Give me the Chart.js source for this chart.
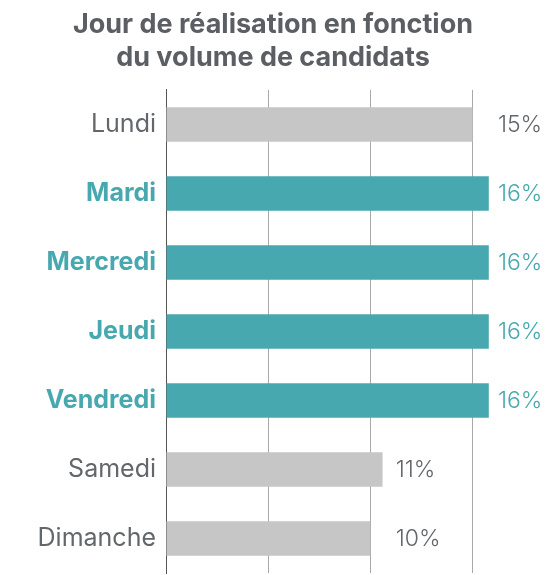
<!DOCTYPE html>
<html>
<head>
<meta charset="utf-8">
<script src="https://cdn.jsdelivr.net/npm/chart.js@4/dist/chart.umd.min.js"></script>
<style>
  html, body { margin: 0; padding: 0; background: #fff; }
  #wrap { width: 546px; height: 575px; }
</style>
</head>
<body>
<div id="wrap"><canvas id="chart"></canvas></div>
<script>
// données
const jours = ["Lundi", "Mardi", "Mercredi", "Jeudi", "Vendredi", "Samedi", "Dimanche"];
const parts = [15.0, 15.8, 15.8, 15.8, 15.8, 10.6, 10.0];
const joursForts = ["Mardi", "Mercredi", "Jeudi", "Vendredi"];
const ticksX = [0, 5, 10, 15];

const TEAL = "#48a8af";
const GRIS = "#c6c6c6";
const TEXTE = "#63676b";
const FONT = "Inter, 'Noto Sans', sans-serif";

const estFort = (i) => joursForts.includes(jours[i]);

// étiquettes de valeur à droite des barres
const valeurs = {
    id: "valeurs",
    afterDatasetsDraw(chart) {
        const { ctx, scales } = chart;
        const meta = chart.getDatasetMeta(0);
        ctx.save();
        ctx.font = "300 23px " + FONT;
        ctx.textBaseline = "middle";
        ctx.textAlign = "left";
        meta.data.forEach((bar, i) => {
            const v = parts[i];
            const x = scales.x.getPixelForValue(Math.floor(v) + 1) + 5;
            ctx.fillStyle = estFort(i) ? TEAL : TEXTE;
            ctx.fillText(Math.round(v) + "%", x, bar.y + 1);
        });
        ctx.restore();
    }
};

new Chart(document.getElementById("chart"), {
    type: "bar",
    data: {
        labels: jours,
        datasets: [{
            data: parts,
            backgroundColor: jours.map((j, i) => estFort(i) ? TEAL : GRIS),
            barPercentage: 0.5,
            categoryPercentage: 1.0
        }]
    },
    options: {
        indexAxis: "y",
        responsive: true,
        maintainAspectRatio: false,
        animation: false,
        layout: { padding: 0 },
        plugins: {
            legend: { display: false },
            tooltip: { enabled: false },
            title: {
                display: true,
                text: ["Jour de réalisation en fonction", "du volume de candidats"],
                color: "#5b5e62",
                font: { family: FONT, size: 27, weight: "bold", lineHeight: 1.22 },
                padding: { top: 8, bottom: 16 }
            }
        },
        scales: {
            x: {
                min: 0,
                max: 18.6,
                afterBuildTicks: (scale) => { scale.ticks = ticksX.map(v => ({ value: v })); },
                afterFit: (scale) => { scale.height = 2; },
                ticks: { display: false },
                grid: { color: "#a8a8a8", lineWidth: 1, drawTicks: false },
                border: { display: false }
            },
            y: {
                afterFit: (scale) => {
                    scale.width = 166;
                    scale.paddingTop = 0;
                    scale.paddingBottom = 0;
                },
                grid: { display: false, drawTicks: false },
                border: { display: true, color: "#555", width: 1 },
                ticks: {
                    padding: 10,
                    color: (c) => estFort(c.index) ? TEAL : TEXTE,
                    font: (c) => ({
                        family: FONT,
                        size: 25,
                        weight: estFort(c.index) ? "bold" : "normal"
                    })
                }
            }
        }
    },
    plugins: [valeurs]
});
</script>
</body>
</html>
